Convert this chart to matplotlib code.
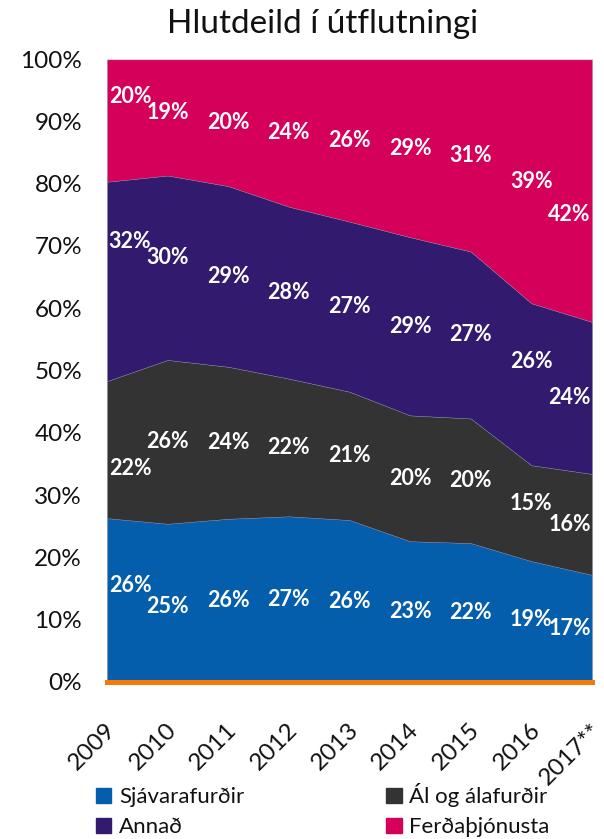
import numpy as np
import matplotlib
matplotlib.use("Agg")
import matplotlib.pyplot as plt
from matplotlib.patches import Patch
from matplotlib.transforms import ScaledTranslation

plt.rcParams['font.family'] = ['Lato', 'DejaVu Sans']

# ---- data ----
years = ["2009", "2010", "2011", "2012", "2013", "2014", "2015", "2016", "2017**"]
series_names = ["Sjávarafurðir", "Ál og álafurðir", "Annað", "Ferðaþjónusta"]
sjavarafurdir = [26.3, 25.4, 26.2, 26.6, 26.0, 22.6, 22.3, 19.4, 17.2]
al_og_alafurdir = [22.0, 26.3, 24.4, 22.1, 20.6, 20.2, 20.0, 15.4, 16.2]
annad = [32.0, 29.6, 29.0, 27.6, 27.3, 28.6, 26.8, 26.0, 24.4]
ferdathjonusta = [19.7, 18.7, 20.4, 23.7, 26.1, 28.6, 30.9, 39.2, 42.2]
yticks = [0, 10, 20, 30, 40, 50, 60, 70, 80, 90, 100]
title = "Hlutdeild í útflutningi"

# ---- style ----
colors = ["#045EAB", "#333333", "#321A6E", "#D5005A"]
# label nudges (percentage points), per series & year (layout only)
label_dy = [
    [2.3, -0.6, 0, 0, 0, 0, 0, 0.3, 0],
    [-3.1, 0, 0, 0, 0, 0, 0, 1.6, 0],
    [6.4, 1.6, 0, 0, 0, 0, 0, 3.6, 0],
    [3.9, 0.7, 0, 0, 0, 0, 0, 0, -3.9],
]

W, H = 604, 839
fig = plt.figure(figsize=(W / 100, H / 100), dpi=100)
L, R, T, B = 107, 592, 59, 682
ax = fig.add_axes([L / W, 1 - B / H, (R - L) / W, (B - T) / H])

x = np.arange(len(years))
data = [sjavarafurdir, al_og_alafurdir, annad, ferdathjonusta]
ax.stackplot(x, *data, colors=colors, labels=series_names,
             edgecolor="#7f7f9f", linewidth=0.3)
ax.set_xlim(0, len(years) - 1)
ax.set_ylim(0, 100)

ax.axhline(0, color="#F47B07", lw=3.6, clip_on=False, zorder=5)
ax.axhline(100, color="#d9d9d9", lw=0.8, clip_on=False, zorder=5)

ax.set_yticks(yticks)
ax.set_yticklabels([f"{v}%" for v in yticks], fontsize=17.5, color="#111111")
ax.set_xticks(x)
ax.set_xticklabels(years, rotation=45, ha="right", va="top",
                   rotation_mode="anchor", fontsize=17.5, color="#111111")
ax.tick_params(axis="y", length=0, pad=18)
ax.tick_params(axis="x", length=0, pad=27)
off = ScaledTranslation(-0.02, 0, fig.dpi_scale_trans)
for lab in ax.get_xticklabels():
    lab.set_transform(lab.get_transform() + off)
for s in ax.spines.values():
    s.set_visible(False)

# data labels
cum = np.zeros(len(years))
for k, vals in enumerate(data):
    vals = np.array(vals)
    mid = cum + vals / 2
    for i, v in enumerate(vals):
        xi = i
        if i == 0:
            xi = i + 0.38
        elif i == len(years) - 1:
            xi = i - 0.37
        ax.text(xi, mid[i] + label_dy[k][i], f"{v:.0f}%", ha="center", va="center",
                color="white", fontsize=15.5, fontweight="bold", zorder=6)
    cum = cum + vals

fig.text(323 / W, 1 - 24 / H, title, ha="center", va="center",
         fontsize=24, color="#111111")

handles = [Patch(color=colors[0]), Patch(color=colors[2]),
           Patch(color=colors[1]), Patch(color=colors[3])]
labels = [series_names[0], series_names[2], series_names[1], series_names[3]]
fig.legend(handles, labels, ncol=2, loc="upper left",
           bbox_to_anchor=(85 / W, 1 - 772 / H), frameon=False,
           fontsize=16, handlelength=0.68, handleheight=0.68,
           handletextpad=0.35, columnspacing=6.4, labelspacing=0.45,
           borderpad=0, labelcolor="#111111")

fig.savefig("out.png", dpi=100)
